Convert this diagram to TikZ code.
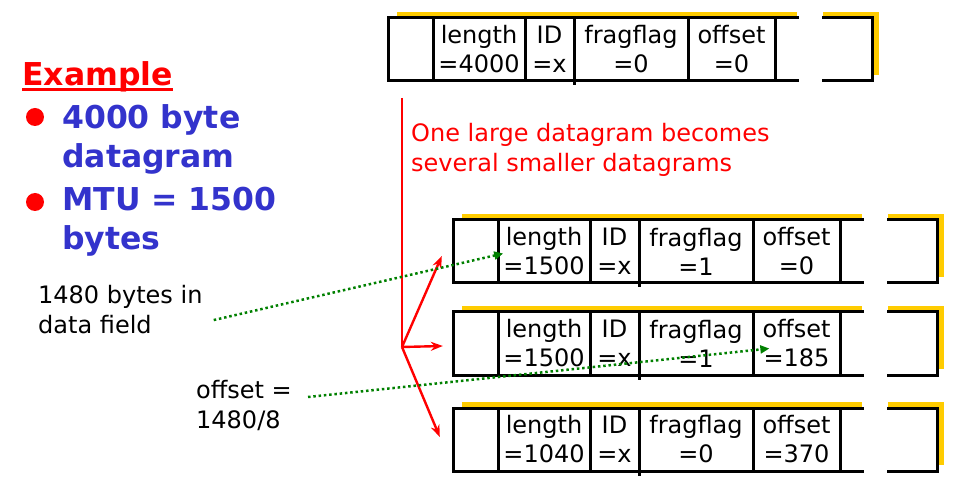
\documentclass[tikz,border=0pt]{standalone}
\usepackage{fontspec}
\setmainfont{DejaVu Sans}
\usetikzlibrary{arrows.meta}
\definecolor{gold}{RGB}{255,204,0}
\definecolor{itemblue}{RGB}{51,51,204}
\definecolor{hintgreen}{RGB}{0,128,0}

\begin{document}
\begin{tikzpicture}[x=1pt, y=-1pt,
  font=\fontsize{24}{30}\selectfont,
  dgbox/.style={fill=white, minimum width=484pt, minimum height=63pt, inner sep=0pt},
  backbar/.style={fill=gold},
  boxline/.style={line width=3pt, line cap=rect},
  cell/.style={align=center, inner sep=0pt, font=\fontsize{24}{29}\selectfont},
  lbl/.style={align=left, inner sep=0pt, anchor=base west},
  item/.style={lbl, text=itemblue, font=\fontsize{31.5}{39}\selectfont\bfseries},
  bullet/.style={circle, fill=red, minimum size=18pt, inner sep=0pt},
  fragarr/.style={-{Stealth[length=12pt,width=9pt]}, red, line width=2.4pt},
  hintarr/.style={-{Triangle[length=9pt,width=8pt]}, hintgreen, line width=2.5pt, dash pattern=on 2.5pt off 2.8pt}
]
\useasboundingbox (0,0) rectangle (966,502);

% left column (base = last line)
\node[lbl, text=red, font=\fontsize{31.5}{39}\selectfont\bfseries] (ex) at (22,86) {Example};
\draw[red, line width=3pt] ([yshift=-4pt]ex.base west) -- ([yshift=-4pt]ex.base east);
\node[bullet] (b1) at (35,117) {};
\node[item] (it1) at (62,168) {4000 byte\\datagram};
\node[bullet] (b2) at (35,202) {};
\node[item] (it2) at (62,250) {MTU = 1500\\bytes};
\node[lbl] (lbytes) at (38,334) {1480 bytes in\\data field};
\node[lbl] (lofs) at (196,428) {offset =\\1480/8};

% datagrams: original on top, then the three fragments
\foreach \nm/\x/\y/\len/\flag/\off in {d0/388/18/4000/0/0, f1/453/220/1500/1/0,
    f2/453/312/1500/1/185, f3/453/408/1040/0/370} {
  \fill[backbar] (\x+9,\y-6) rectangle (\x+491,\y+57);
  \node[dgbox] (\nm) at (\x+242,\y+31.5) {};
  \fill[white] (\x+409,\y-8) rectangle (\x+435,\y+66);
  \draw[boxline] (\x+409,\y) -| (\x,\y+63) -- (\x+409,\y+63);
  \draw[boxline] (\x+435,\y) -| (\x+484,\y+63) -- (\x+435,\y+63);
  \foreach \d in {45,137,300,387}
    \draw[boxline] (\x+\d,\y) -- (\x+\d,\y+63);
  \draw[boxline] (\x+186,\y) -- (\x+186,\y+66);
  \node[cell] (\nm-len) at (\x+91,\y+31.5) {length\\=\len};
  \node[cell] (\nm-id) at (\x+161.5,\y+31.5) {ID\\=x};
  \node[cell] (\nm-flag) at (\x+243,\y+31.5) {fragflag\\=\flag};
  \node[cell] (\nm-off) at (\x+343.5,\y+31.5) {offset\\=\off};
}

% fragmentation
\node[lbl, text=red] (msg) at (411,172) {One large datagram becomes\\several smaller datagrams};
\coordinate (src) at (402,98);
\coordinate (fork) at (402,347);
\draw[red, line width=2.4pt] (src) -- (fork);
\draw[fragarr] (fork) -- ([xshift=-11pt,yshift=-4.5pt]f1.west);
\draw[fragarr] (fork) -- ([xshift=-10pt,yshift=-2.5pt]f2.west);
\draw[fragarr] (fork) -- ([xshift=-13pt,yshift=2.5pt]f3.west);

% notes
\draw[hintarr] ([xshift=11pt,yshift=-10pt]lbytes.east) -- ([yshift=-2pt]f1-len.west);
\draw[hintarr] ([xshift=16pt,yshift=8pt]lofs.east) -- ([xshift=7pt,yshift=-5pt]f2-off.west);
\end{tikzpicture}
\end{document}
